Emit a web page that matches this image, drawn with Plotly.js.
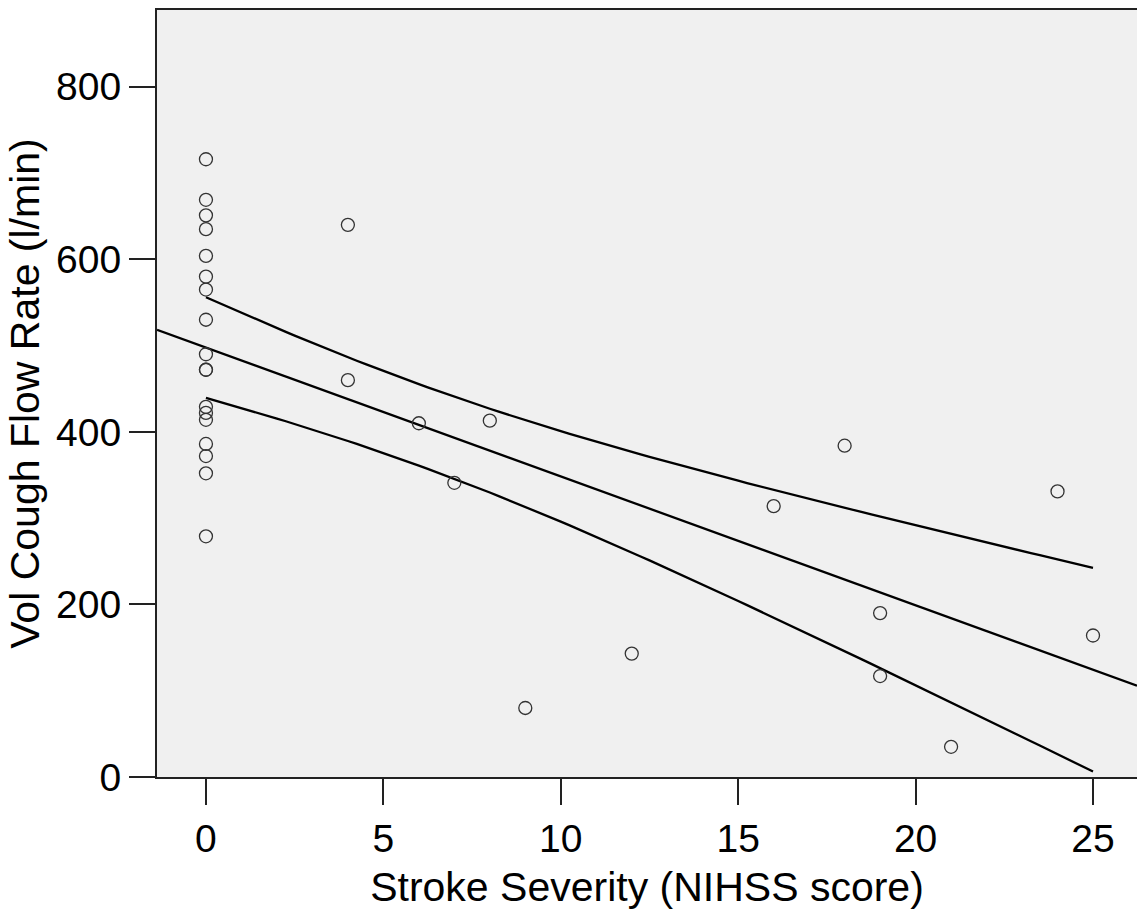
<!DOCTYPE html>
<html>
<head>
<meta charset="utf-8">
<script src="https://cdn.plot.ly/plotly-3.0.1.min.js"></script>
<style>html,body{margin:0;padding:0;background:#fff;}#chart{width:1137px;height:913px;}</style>
</head>
<body>
<div id="chart"></div>
<script>
// Data
const nihss = [0,0,0,0,0,0,0,0,0,0,0,0,0,0,0,0,0,0,
               4,4,6,7,8,9,12,16,18,19,19,21,24,25];
const coughFlow = [716,669,651,635,604,580,565,530,490,472,472,429,422,414,386,372,352,279,
                   640,460,410,341,413,80,143,314,384,190,117,35,331,164];
const xTicks = [0,5,10,15,20,25];
const yTicks = [0,200,400,600,800];
const xRange = [-1.38, 26.24];
const yRange = [0, 889];

// Linear fit with 95% confidence band of the mean
const n = nihss.length;
const mx = nihss.reduce((a,b)=>a+b,0)/n;
const my = coughFlow.reduce((a,b)=>a+b,0)/n;
let sxx=0, sxy=0, syy=0;
for (let i=0;i<n;i++){const dx=nihss[i]-mx, dy=coughFlow[i]-my; sxx+=dx*dx; sxy+=dx*dy; syy+=dy*dy;}
const slope = sxy/sxx, icpt = my - slope*mx;
const s = Math.sqrt((syy - sxy*sxy/sxx)/(n-2));
const tcrit = 2.042;
const xmin = Math.min(...nihss), xmax = Math.max(...nihss);
const bx=[], up=[], lo=[];
for (let k=0;k<=100;k++){
  const x = xmin + (xmax-xmin)*k/100;
  const yh = icpt + slope*x;
  const h = tcrit*s*Math.sqrt(1/n + (x-mx)*(x-mx)/sxx);
  bx.push(x); up.push(yh+h); lo.push(yh-h);
}
const fx = xRange.slice();
const fy = fx.map(x=>icpt+slope*x);

const lineStyle = {color:'#000', width:2.3};
const traces = [
  {x:fx, y:fy, mode:'lines', line:lineStyle, hoverinfo:'skip'},
  {x:bx, y:up, mode:'lines', line:lineStyle, hoverinfo:'skip'},
  {x:bx, y:lo, mode:'lines', line:lineStyle, hoverinfo:'skip'},
  {x:nihss, y:coughFlow, mode:'markers', type:'scatter',
   marker:{symbol:'circle-open', size:13, color:'#333', line:{width:1.3, color:'#333'}}}
];
const fam = '"Liberation Sans", Arial, sans-serif';
const tickFont = {family:fam, size:39, color:'#000'};
const titleFont = {family:fam, size:41, color:'#000'};
const layout = {
  width:1137, height:913,
  margin:{l:157, r:0, t:10, b:136, pad:0},
  paper_bgcolor:'#fff', plot_bgcolor:'#f0f0f0',
  showlegend:false,
  font:tickFont,
  xaxis:{range:xRange, tickvals:xTicks, ticktext:xTicks.map(String), ticks:'outside', ticklen:26, tickwidth:2, tickcolor:'#222',
         showgrid:false, zeroline:false, showline:true, linecolor:'#222', linewidth:2, mirror:true,
         tickfont:tickFont,
         title:{text:'Stroke Severity (NIHSS score)', font:titleFont, standoff:14}},
  yaxis:{range:yRange, tickvals:yTicks, ticktext:yTicks.map(String), ticks:'outside', ticklen:26, tickwidth:2, tickcolor:'#222',
         showgrid:false, zeroline:false, showline:true, linecolor:'#222', linewidth:2, mirror:true,
         tickfont:tickFont,
         title:{text:'Vol Cough Flow Rate (l/min)', font:titleFont, standoff:4}}
};
Plotly.newPlot('chart', traces, layout, {staticPlot:true, displayModeBar:false});
</script>
</body>
</html>
